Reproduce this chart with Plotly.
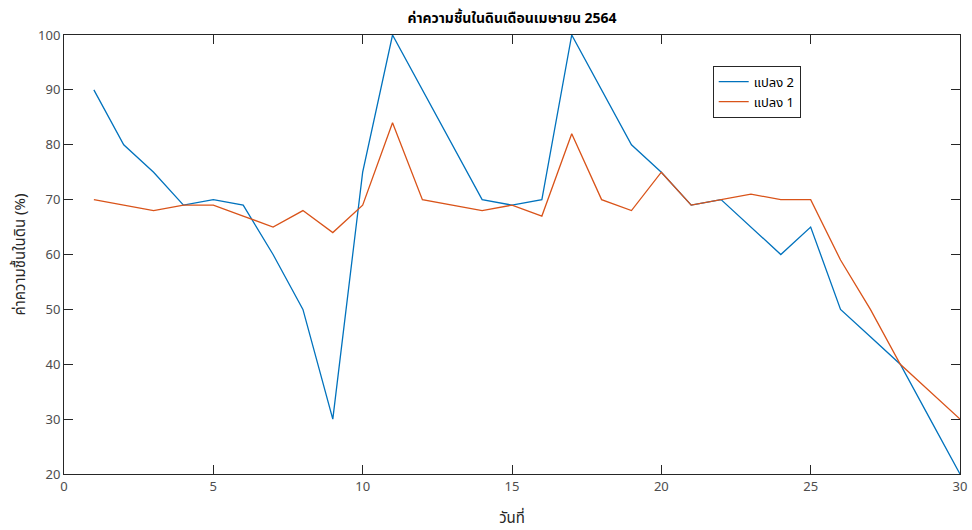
import plotly.graph_objects as go

days = list(range(1, 31))
plot2 = [90, 80, 75, 69, 70, 69, 60, 50, 30, 75, 100, 90, 80, 70, 69, 70, 100, 90, 80, 75,
         69, 70, 65, 60, 65, 50, 45, 40, 30, 20]
plot1 = [70, 69, 68, 69, 69, 67, 65, 68, 64, 69, 84, 70, 69, 68, 69, 67, 82, 70, 68, 75,
         69, 70, 71, 70, 70, 59, 50, 40, 35, 30]
names = ["แปลง 2", "แปลง 1"]
colors = ["#0072BD", "#D95319"]
x_ticks = [0, 5, 10, 15, 20, 25, 30]
y_ticks = [20, 30, 40, 50, 60, 70, 80, 90, 100]
title = "ค่าความชื้นในดินเดือนเมษายน 2564"
x_title = "วันที่"
y_title = "ค่าความชื้นในดิน (%)"

FONT = "Noto Sans Thai, Tahoma, Loma, Garuda, Noto Sans, sans-serif"

fig = go.Figure()
for name, vals, c in zip(names, [plot2, plot1], colors):
    fig.add_trace(go.Scatter(x=days, y=vals, mode="lines", name=name,
                             line=dict(color=c, width=1.3)))

axis_common = dict(showline=True, linecolor="#262626", linewidth=1, mirror="ticks",
                   ticks="inside", ticklen=9, tickcolor="#262626", tickwidth=1,
                   showgrid=False, zeroline=False, automargin=False,
                   tickfont=dict(family=FONT, size=13, color="#4d4d4d"))

fig.update_layout(
    width=972, height=530,
    margin=dict(l=64, r=12, t=35, b=56),
    paper_bgcolor="white", plot_bgcolor="white",
    font=dict(family=FONT, color="#262626"),
    title=dict(text="<b>" + title + "</b>", x=512/972, xanchor="center", y=1 - 18/530, yanchor="middle",
               font=dict(family=FONT, size=14, color="#000000")),
    xaxis=dict(range=[0, 30], tickvals=x_ticks, title=dict(text=x_title, standoff=18,
               font=dict(family=FONT, size=15, color="#262626")), **axis_common),
    yaxis=dict(range=[20, 100], tickvals=y_ticks, title=dict(text=y_title, standoff=8,
               font=dict(family=FONT, size=15, color="#262626")), **axis_common),
    legend=dict(x=0.724, y=0.93, xanchor="left", yanchor="top",
                bgcolor="white", bordercolor="#262626", borderwidth=1,
                font=dict(family=FONT, size=13, color="#000000"), itemwidth=30,
                tracegroupgap=0),
    showlegend=True,
)

fig.write_html("out.html", config={"displayModeBar": False},
               post_script="document.body.style.margin='0';document.body.style.overflow='hidden';")
